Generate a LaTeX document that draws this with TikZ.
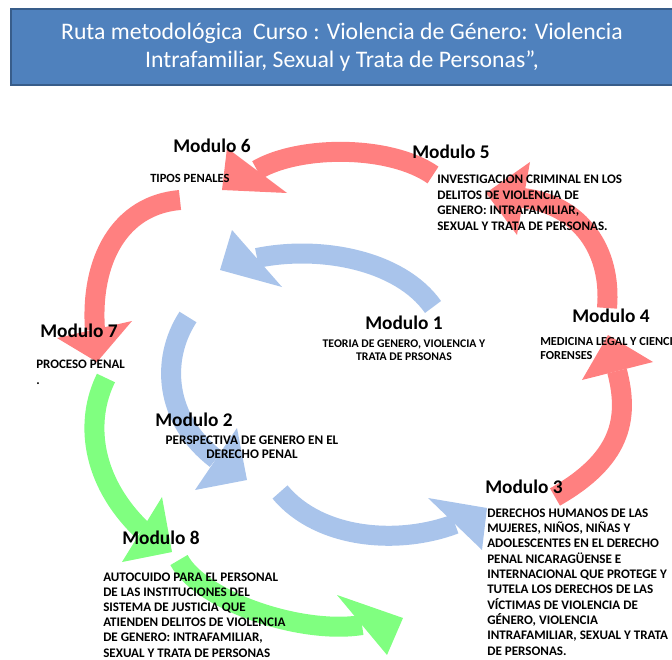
\documentclass[tikz,border=0pt]{standalone}
\usepackage{fontspec}
\setmainfont{Carlito}
\usetikzlibrary{positioning}
\definecolor{titlefill}{HTML}{4F81BD}
\definecolor{titleline}{HTML}{385D8A}
\definecolor{pinkarrow}{HTML}{FF8080}
\definecolor{bluearrow}{HTML}{A9C4EB}
\definecolor{greenarrow}{HTML}{80FF80}
\tikzset{
  shaft/.style={line width=15pt},
  modname/.style={font=\bfseries\fontsize{14.5}{17}\selectfont, anchor=base west, inner sep=0pt},
  modtext/.style={font=\bfseries\fontsize{9.8}{11.5}\selectfont, align=left, anchor=base west, inner sep=0pt},
}

\begin{document}
\begin{tikzpicture}[x=0.75pt, y=-0.75pt]
      \useasboundingbox (0,0) rectangle (672,660);
      \node[draw=titleline, line width=1.2pt, fill=titlefill, minimum width=496.5pt, minimum height=57pt,
        text=white, align=center, font=\fontsize{17.8}{21}\selectfont] (title) at (342,47)
        {Ruta metodológica\ \ Curso : Violencia de Género: Violencia\\Intrafamiliar, Sexual y Trata de Personas”,};

      % red ring
      \fill[pinkarrow] (582,380) -- (653,362) -- (608,335) -- cycle;
      \draw[shaft, pinkarrow] (555,497) .. controls (620,460) and (630,420) .. (617,371);
      \fill[pinkarrow] (530,162) -- (517,235) -- (486,193) -- cycle;
      \draw[shaft, pinkarrow] (607,308) .. controls (612,250) and (580,205) .. (523,198);
      \fill[pinkarrow] (227,148) -- (287,193) -- (222,190) -- cycle;
      \draw[shaft, pinkarrow] (433,175) .. controls (390,145) and (300,145) .. (257,170);
      \fill[pinkarrow] (57,338) -- (132,321) -- (97,362) -- cycle;
      \draw[shaft, pinkarrow] (180,200) .. controls (120,205) and (90,260) .. (95,330);

      % green
      \fill[greenarrow] (162,497) -- (122,562) -- (172,552) -- cycle;
      \draw[shaft, greenarrow] (106,378) .. controls (85,420) and (90,480) .. (142,530);
      \fill[greenarrow] (337,595) -- (387,655) -- (403,618) -- cycle;
      \draw[shaft, greenarrow] (179,560) .. controls (200,600) and (300,635) .. (362,625);

      % blue
      \fill[bluearrow] (232,230) -- (282,287) -- (220,270) -- cycle;
      \draw[shaft, bluearrow] (433,307) .. controls (400,260) and (320,245) .. (257,258);
      \fill[bluearrow] (237,428) -- (195,490) -- (247,480) -- cycle;
      \draw[shaft, bluearrow] (188,317) .. controls (160,360) and (165,420) .. (216,459);
      \fill[bluearrow] (428,498) -- (482,550) -- (487,508) -- cycle;
      \draw[shaft, bluearrow] (280,492) .. controls (320,540) and (400,545) .. (455,524);

      % labels (multi-line texts are placed by the baseline of their last line)
      \node[modname] (m6) at (173,152) {Modulo 6};
      \node[modtext, font=\bfseries\fontsize{9.4}{11.5}\selectfont] (m6txt) at (150,183) {TIPOS PENALES};
      \node[modname] (m5) at (412,159) {Modulo 5};
      \node[modtext, font=\bfseries\fontsize{9.8}{11.6}\selectfont] (m5txt) at (437,230) {INVESTIGACION CRIMINAL EN LOS\\DELITOS DE VIOLENCIA DE\\GENERO: INTRAFAMILIAR,\\SEXUAL Y TRATA DE PERSONAS.};
      \node[modname] (m1) at (365,329) {Modulo 1};
      \node[modtext, align=center, anchor=base, font=\bfseries\fontsize{8.8}{9.75}\selectfont] (m1txt) at (404,360) {TEORIA DE GENERO, VIOLENCIA Y\\TRATA DE PRSONAS};
      \node[modname] (m4) at (572,322) {Modulo 4};
      \node[modtext, font=\bfseries\fontsize{9.2}{10.5}\selectfont] (m4txt) at (540,359) {MEDICINA LEGAL Y CIENCIAS\\FORENSES};
      \node[modname] (m7) at (40,337) {Modulo 7};
      \node[modtext, font=\bfseries\fontsize{9.7}{12}\selectfont] (m7txt) at (36,384) {PROCESO PENAL\\.};
      \node[modname] (m2) at (155,426) {Modulo 2};
      \node[modtext, align=center, anchor=base, font=\bfseries\fontsize{9.9}{10.5}\selectfont] (m2txt) at (252,458) {PERSPECTIVA DE GENERO EN EL\\DERECHO PENAL};
      \node[modname] (m3) at (485,493) {Modulo 3};
      \node[modtext] (m3txt) at (487,655) {DERECHOS HUMANOS DE LAS\\MUJERES, NIÑOS, NIÑAS Y\\ADOLESCENTES EN EL DERECHO\\PENAL NICARAGÜENSE E\\INTERNACIONAL QUE PROTEGE Y\\TUTELA LOS DERECHOS DE LAS\\VÍCTIMAS DE VIOLENCIA DE\\GÉNERO, VIOLENCIA\\INTRAFAMILIAR, SEXUAL Y TRATA\\DE PERSONAS.};
      \node[modname] (m8) at (122,544) {Modulo 8};
      \node[modtext, font=\bfseries\fontsize{9.8}{11.4}\selectfont] (m8txt) at (103,657) {AUTOCUIDO PARA EL PERSONAL\\DE LAS INSTITUCIONES DEL\\SISTEMA DE JUSTICIA QUE\\ATIENDEN DELITOS DE VIOLENCIA\\DE GENERO: INTRAFAMILIAR,\\SEXUAL Y TRATA DE PERSONAS};
    \end{tikzpicture}
\end{document}
